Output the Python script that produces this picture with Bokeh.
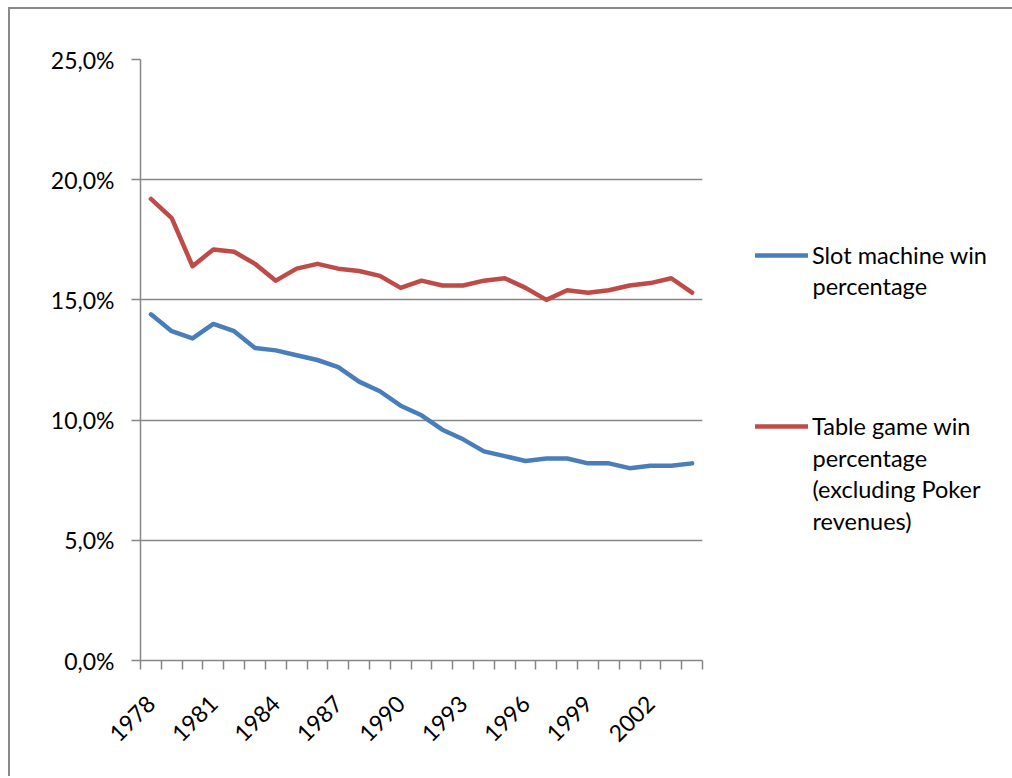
import math
from bokeh.plotting import figure
from bokeh.layouts import row
from bokeh.models import Range1d, FixedTicker, Legend, LegendItem, Label
from bokeh.embed import file_html
from bokeh.resources import INLINE

years = list(range(1978, 2005))
slot_win = [14.4, 13.7, 13.4, 14.0, 13.7, 13.0, 12.9, 12.7, 12.5, 12.2, 11.6, 11.2,
            10.6, 10.2, 9.6, 9.2, 8.7, 8.5, 8.3, 8.4, 8.4, 8.2, 8.2, 8.0, 8.1, 8.1, 8.2]
table_win = [19.2, 18.4, 16.4, 17.1, 17.0, 16.5, 15.8, 16.3, 16.5, 16.3, 16.2, 16.0,
             15.5, 15.8, 15.6, 15.6, 15.8, 15.9, 15.5, 15.0, 15.4, 15.3, 15.4, 15.6, 15.7, 15.9, 15.3]
y_ticks = [0, 5, 10, 15, 20, 25]
y_labels = ["0,0%", "5,0%", "10,0%", "15,0%", "20,0%", "25,0%"]
x_label_years = list(range(1978, 2005, 3))
slot_label = ["Slot machine win", "percentage"]
table_label = ["Table game win", "percentage", "(excluding Poker", "revenues)"]

SLOT_COLOR = "#4A7EBB"
TABLE_COLOR = "#BE4B48"
GREY = "#868686"
FONT = "Lato"
FS = "23px"
LFS = "23.5px"
H = 767
FH = 601

p = figure(width=732, height=H, frame_width=562, frame_height=FH,
           min_border_left=130, min_border_right=40, min_border_top=50, min_border_bottom=H - 50 - FH,
           x_range=Range1d(years[0] - 0.5, years[-1] + 0.5), y_range=Range1d(0, 25),
           output_backend="svg", toolbar_location=None)
p.outline_line_color = None
p.background_fill_color = "white"
p.border_fill_color = "white"

# y axis
p.yaxis.ticker = FixedTicker(ticks=y_ticks, minor_ticks=[])
p.yaxis.major_label_overrides = {t: l for t, l in zip(y_ticks, y_labels)}
p.yaxis.axis_line_color = GREY
p.yaxis.axis_line_width = 1.5
p.yaxis.major_tick_line_color = GREY
p.yaxis.major_tick_line_width = 1.5
p.yaxis.major_tick_out = 9
p.yaxis.major_tick_in = 0
p.yaxis.minor_tick_line_color = None
p.yaxis.major_label_text_font = FONT
p.yaxis.major_label_text_font_size = FS
p.yaxis.major_label_text_color = "black"
p.yaxis.major_label_standoff = 17

# x axis: ticks at category boundaries, labels every third year
p.xaxis.ticker = FixedTicker(ticks=x_label_years,
                             minor_ticks=[y - 0.5 for y in years] + [years[-1] + 0.5])
p.xaxis.axis_line_color = GREY
p.xaxis.axis_line_width = 1.5
p.xaxis.major_tick_line_color = None
p.xaxis.minor_tick_line_color = GREY
p.xaxis.minor_tick_line_width = 1.5
p.xaxis.minor_tick_out = 9
p.xaxis.minor_tick_in = 0
p.xaxis.major_label_orientation = math.pi / 4
p.xaxis.major_label_text_font = FONT
p.xaxis.major_label_text_font_size = FS
p.xaxis.major_label_text_color = "black"
p.xaxis.major_label_standoff = 30

p.xgrid.grid_line_color = None
p.ygrid.ticker = FixedTicker(ticks=y_ticks)
p.ygrid.grid_line_color = GREY
p.ygrid.grid_line_width = 1.5

p.line(years, slot_win, line_color=SLOT_COLOR, line_width=4.5, line_join="round", line_cap="round")
p.line(years, table_win, line_color=TABLE_COLOR, line_width=4.5, line_join="round", line_cap="round")

# legend panel (same frame height as the chart; data y = pixels from frame top)
W2 = 1012 - 10 - 732
q = figure(width=W2, height=H, frame_width=W2, frame_height=FH,
           min_border_left=0, min_border_right=0, min_border_top=50, min_border_bottom=H - 50 - FH,
           x_range=Range1d(0, W2), y_range=Range1d(FH, 0),
           x_axis_location=None, y_axis_location=None,
           output_backend="svg", toolbar_location=None)
q.outline_line_color = None
q.grid.grid_line_color = None
q.background_fill_color = "white"
q.border_fill_color = "white"
# legend keys reuse the series (outside this panel's ranges, so only the keys show)
k_slot = q.line(years, slot_win, line_color=SLOT_COLOR, line_width=4.5, line_cap="round")
k_table = q.line(years, table_win, line_color=TABLE_COLOR, line_width=4.5, line_cap="round")

for lab, rend, loc in ((slot_label, k_slot, (13, 389)), (table_label, k_table, (13, 218))):
    lg = Legend(items=[LegendItem(label=lab[0], renderers=[rend])], location=loc)
    lg.border_line_color = None
    lg.background_fill_alpha = 0
    lg.label_text_font = FONT
    lg.label_text_font_size = LFS
    lg.label_text_color = "black"
    lg.glyph_width = 53
    lg.glyph_height = 32
    lg.label_height = 32
    lg.label_standoff = 4
    lg.padding = 0
    lg.margin = 0
    q.add_layout(lg, "center")

for lab, ytop in ((slot_label, 212), (table_label, 384)):
    q.add_layout(Label(x=70, y=ytop, text="\n".join(lab[1:]), text_font=FONT, text_font_size=LFS,
                       text_color="black", text_baseline="top", text_line_height=1.13))

layout = row(p, q, styles={"margin-left": "8px", "margin-top": "7px",
                           "border-left": "2px solid #8a8a8a", "border-top": "2px solid #8a8a8a"})

open("out.html", "w").write(file_html(layout, INLINE))
